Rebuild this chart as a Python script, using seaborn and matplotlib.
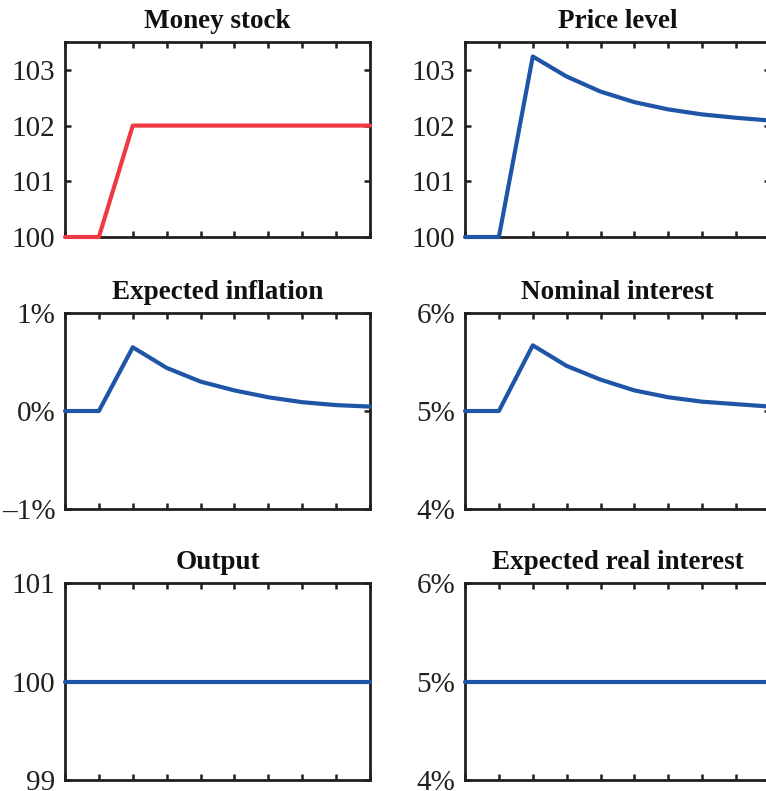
import matplotlib
matplotlib.use("Agg")
import matplotlib.pyplot as plt
import seaborn as sns

# periods 0..9
periods = [0, 1, 2, 3, 4, 5, 6, 7, 8, 9]

money_stock = [100, 100, 102, 102, 102, 102, 102, 102, 102, 102]
price_level = [100, 100, 103.24, 102.88, 102.61, 102.42, 102.29, 102.20, 102.14, 102.09]
expected_inflation = [0, 0, 0.65, 0.44, 0.30, 0.21, 0.14, 0.09, 0.06, 0.045]
nominal_interest = [5, 5, 5.67, 5.46, 5.32, 5.21, 5.14, 5.095, 5.07, 5.045]
output = [100, 100, 100, 100, 100, 100, 100, 100, 100, 100]
real_interest = [5, 5, 5, 5, 5, 5, 5, 5, 5, 5]

titles = ["Money stock", "Price level", "Expected inflation",
          "Nominal interest", "Output", "Expected real interest"]
series = [money_stock, price_level, expected_inflation,
          nominal_interest, output, real_interest]
colors = ["#EE3B43", "#1F55A6", "#1F55A6", "#1F55A6", "#1F55A6", "#1F55A6"]
ylims = [(100, 103.5), (100, 103.5), (-1, 1), (4, 6), (99, 101), (4, 6)]
yticks = [[100, 101, 102, 103], [100, 101, 102, 103], [-1, 0, 1],
          [4, 5, 6], [99, 100, 101], [4, 5, 6]]
yticklabels = [["100", "101", "102", "103"], ["100", "101", "102", "103"],
               ["\u20131%", "0%", "1%"], ["4%", "5%", "6%"],
               ["99", "100", "101"], ["4%", "5%", "6%"]]

sns.set_theme(style="ticks")
plt.rcParams["font.family"] = ["Liberation Serif", "DejaVu Serif"]

fig = plt.figure(figsize=(7.66, 7.91), dpi=100)

W, H = 766, 791
col_left = [65, 465]
col_w = 305
rows = [(42, 237), (313, 509), (583, 780)]
ink = "#231F20"

for i in range(6):
    r, c = divmod(i, 2)
    top, bot = rows[r]
    ax = fig.add_axes([col_left[c] / W, 1 - bot / H, col_w / W, (bot - top) / H])
    sns.lineplot(x=periods, y=series[i], ax=ax, color=colors[i], lw=3.0,
                 clip_on=False, zorder=5)
    ax.set_xlim(0, 9)
    ax.set_ylim(*ylims[i])
    ax.set_xticks(periods)
    ax.set_xticklabels([])
    ax.set_yticks(yticks[i])
    ax.set_yticklabels(yticklabels[i])
    ax.tick_params(direction="in", top=True, right=True, length=4.5, width=1.8,
                   color=ink, labelsize=21, labelcolor=ink, pad=7)
    for s in ax.spines.values():
        s.set_visible(True)
        s.set_linewidth(2.0)
        s.set_color(ink)
    ax.set_title(titles[i], fontsize=19.5, fontweight="bold", color="#111111", pad=10)

fig.savefig("out.png", dpi=100)
